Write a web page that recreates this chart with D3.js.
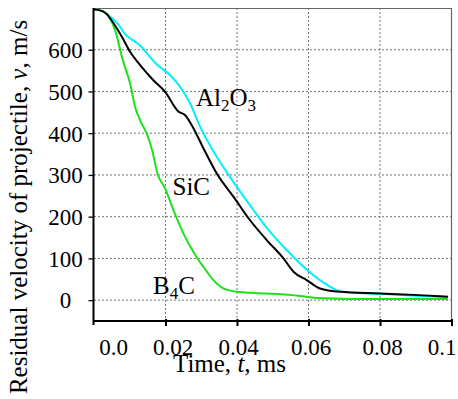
<!DOCTYPE html>
<html><head><meta charset="utf-8">
<script src="https://cdn.jsdelivr.net/npm/d3@7"></script>
<style>
html,body{margin:0;padding:0;background:#fff;}
svg{display:block;}
svg text{font-family:"Liberation Serif","Times New Roman",serif !important;}
</style></head>
<body><svg id="c" width="458" height="399"></svg>
<script>
// ---- data ----
const xTicks = [0, 0.02, 0.04, 0.06, 0.08, 0.1];
const xTickLabels = ["0.0", "0.02", "0.04", "0.06", "0.08", "0.1"];
const yTicks = [0, 100, 200, 300, 400, 500, 600];
const yTickLabels = ["0", "100", "200", "300", "400", "500", "600"];

const tAl2O3 = [0, 0.0025, 0.0035, 0.0054, 0.0073, 0.0082, 0.0129, 0.0175, 0.0213, 0.0241, 0.0269, 0.0297, 0.0329, 0.0343, 0.0399, 0.0446, 0.0492, 0.0539, 0.0586, 0.0632, 0.0679, 0.0716, 0.08, 0.0912, 0.099];
const vAl2O3 = [697, 692, 686, 673, 655, 643, 610, 565, 539, 511, 471, 415, 364, 344, 272, 216, 164, 120, 80, 48, 24, 18, 15, 10, 7];

const tSiC = [0, 0.0025, 0.0035, 0.0047, 0.0078, 0.0101, 0.0129, 0.0166, 0.0199, 0.0236, 0.0255, 0.0278, 0.0306, 0.0343, 0.0390, 0.0436, 0.0483, 0.0530, 0.0558, 0.0595, 0.0632, 0.0688, 0.08, 0.091, 0.099];
const vSiC = [697, 692, 686, 673, 631, 595, 563, 527, 499, 452, 443, 412, 364, 304, 248, 192, 144, 100, 68, 48, 28, 20, 16, 12, 8];

const tB4C = [0, 0.0025, 0.0035, 0.0059, 0.0080, 0.0101, 0.0115, 0.0129, 0.0147, 0.0163, 0.0178, 0.0199, 0.0222, 0.0250, 0.0282, 0.0306, 0.0334, 0.0362, 0.0399, 0.0483, 0.0576, 0.0623, 0.072, 0.085, 0.099];
const vB4C = [697, 692, 686, 647, 577, 519, 463, 431, 400, 358, 302, 268, 216, 160, 110, 80, 48, 28, 20, 16, 10, 5, 3, 3, 3];

const seriesNames = ["Al2O3", "SiC", "B4C"];

// ---- layout ----
const svg = d3.select("#c");
const X0 = 94, X1 = 451.5, Y0 = 321, Y1 = 8;
const x = d3.scaleLinear().domain([0, 0.1]).range([X0, X1]);
const y = d3.scaleLinear().domain([-50, 700]).range([Y0, Y1]);

// grid
const g = svg.append("g");
g.selectAll("line.h").data(yTicks).join("line")
  .attr("x1", X0).attr("x2", X1).attr("y1", d => y(d)).attr("y2", d => y(d))
  .attr("stroke", "#777").attr("stroke-width", 1).attr("stroke-dasharray", "2,2");
g.selectAll("line.v").data(xTicks.slice(1, -1)).join("line")
  .attr("x1", d => x(d)).attr("x2", d => x(d)).attr("y1", Y1).attr("y2", Y0)
  .attr("stroke", "#777").attr("stroke-width", 1).attr("stroke-dasharray", "2,2");

// frame top/right
svg.append("line").attr("x1", X0).attr("x2", X1).attr("y1", Y1 + 0.5).attr("y2", Y1 + 0.5).attr("stroke", "#666").attr("stroke-width", 1);
svg.append("line").attr("x1", X1).attr("x2", X1).attr("y1", Y1).attr("y2", Y0).attr("stroke", "#666").attr("stroke-width", 1.2);

// curves
const colors = {"Al2O3": "#00f0ff", "SiC": "#000000", "B4C": "#1ee01e"};
const datasets = {
  "Al2O3": tAl2O3.map((t, i) => [t, vAl2O3[i]]),
  "SiC": tSiC.map((t, i) => [t, vSiC[i]]),
  "B4C": tB4C.map((t, i) => [t, vB4C[i]])
};
const line = d3.line().x(d => x(d[0])).y(d => y(d[1])).curve(d3.curveMonotoneX);
["Al2O3", "B4C", "SiC"].forEach(n => {
  svg.append("path").datum(datasets[n]).attr("d", line)
    .attr("fill", "none").attr("stroke", colors[n]).attr("stroke-width", 2);
});

// x axis
const xAxis = d3.axisBottom(x).tickValues(xTicks).tickFormat((d, i) => xTickLabels[i]).tickSize(5).tickSizeOuter(0);
const xg = svg.append("g").attr("transform", `translate(0,${Y0})`).call(xAxis);
xg.attr("font-family", null).attr("font-size", null);
xg.select(".domain").attr("stroke", "#000").attr("stroke-width", 2).attr("d", `M${X0 - 1},0H${X1 + 1}`);
xg.selectAll(".tick line").attr("stroke", "#000").attr("stroke-width", 2).attr("y1", -2);
const xLabelDx = [19, 7, 1, 2, 2, -10];
xg.selectAll(".tick text").attr("font-size", 23).attr("fill", "#000")
  .attr("y", 0).attr("dy", 0)
  .attr("transform", (d, i) => `translate(${xLabelDx[i]},34)`);
xg.selectAll(".tick").filter(d => d === 0).select("line").remove();

// y axis
const yAxis = d3.axisLeft(y).tickValues(yTicks).tickFormat((d, i) => yTickLabels[i]).tickSize(5).tickSizeOuter(0);
const yg = svg.append("g").attr("transform", `translate(${X0 - 0.5},0)`).call(yAxis);
yg.attr("font-family", null).attr("font-size", null);
yg.select(".domain").attr("stroke", "#000").attr("stroke-width", 2).attr("d", `M0,${Y1}V${Y0 + 4}`);
yg.selectAll(".tick line").attr("stroke", "#000").attr("stroke-width", 1.3);
yg.selectAll(".tick text").attr("font-size", 23).attr("fill", "#000")
  .attr("text-anchor", "middle").attr("x", -28).attr("dy", "0.34em");

// axis titles
const xt = svg.append("text").attr("x", 229.5).attr("y", 372).attr("text-anchor", "middle")
  .attr("font-size", 25).attr("fill", "#000");
xt.append("tspan").text("Time, ");
xt.append("tspan").attr("font-style", "italic").text("t");
xt.append("tspan").text(", ms");

const yt = svg.append("text").attr("transform", "translate(27,207) rotate(-90)").attr("text-anchor", "middle")
  .attr("font-size", 25).attr("fill", "#000");
yt.append("tspan").text("Residual velocity of projectile, ");
yt.append("tspan").attr("font-style", "italic").text("v");
yt.append("tspan").text(", m/s");

// annotations
function chem(xp, yp, parts) {
  const t = svg.append("text").attr("x", xp).attr("y", yp).attr("font-size", 25).attr("fill", "#000");
  parts.forEach(p => {
    if (p.sub) t.append("tspan").attr("font-size", 17).attr("dy", 5).text(p.s);
    else t.append("tspan").attr("dy", p.back ? -5 : 0).text(p.s);
  });
}
chem(196, 106, [{s: "Al"}, {s: "2", sub: true}, {s: "O", back: true}, {s: "3", sub: true}]);
chem(172.5, 195, [{s: "SiC"}]);
chem(153, 294, [{s: "B"}, {s: "4", sub: true}, {s: "C", back: true}]);
</script>
</body></html>
